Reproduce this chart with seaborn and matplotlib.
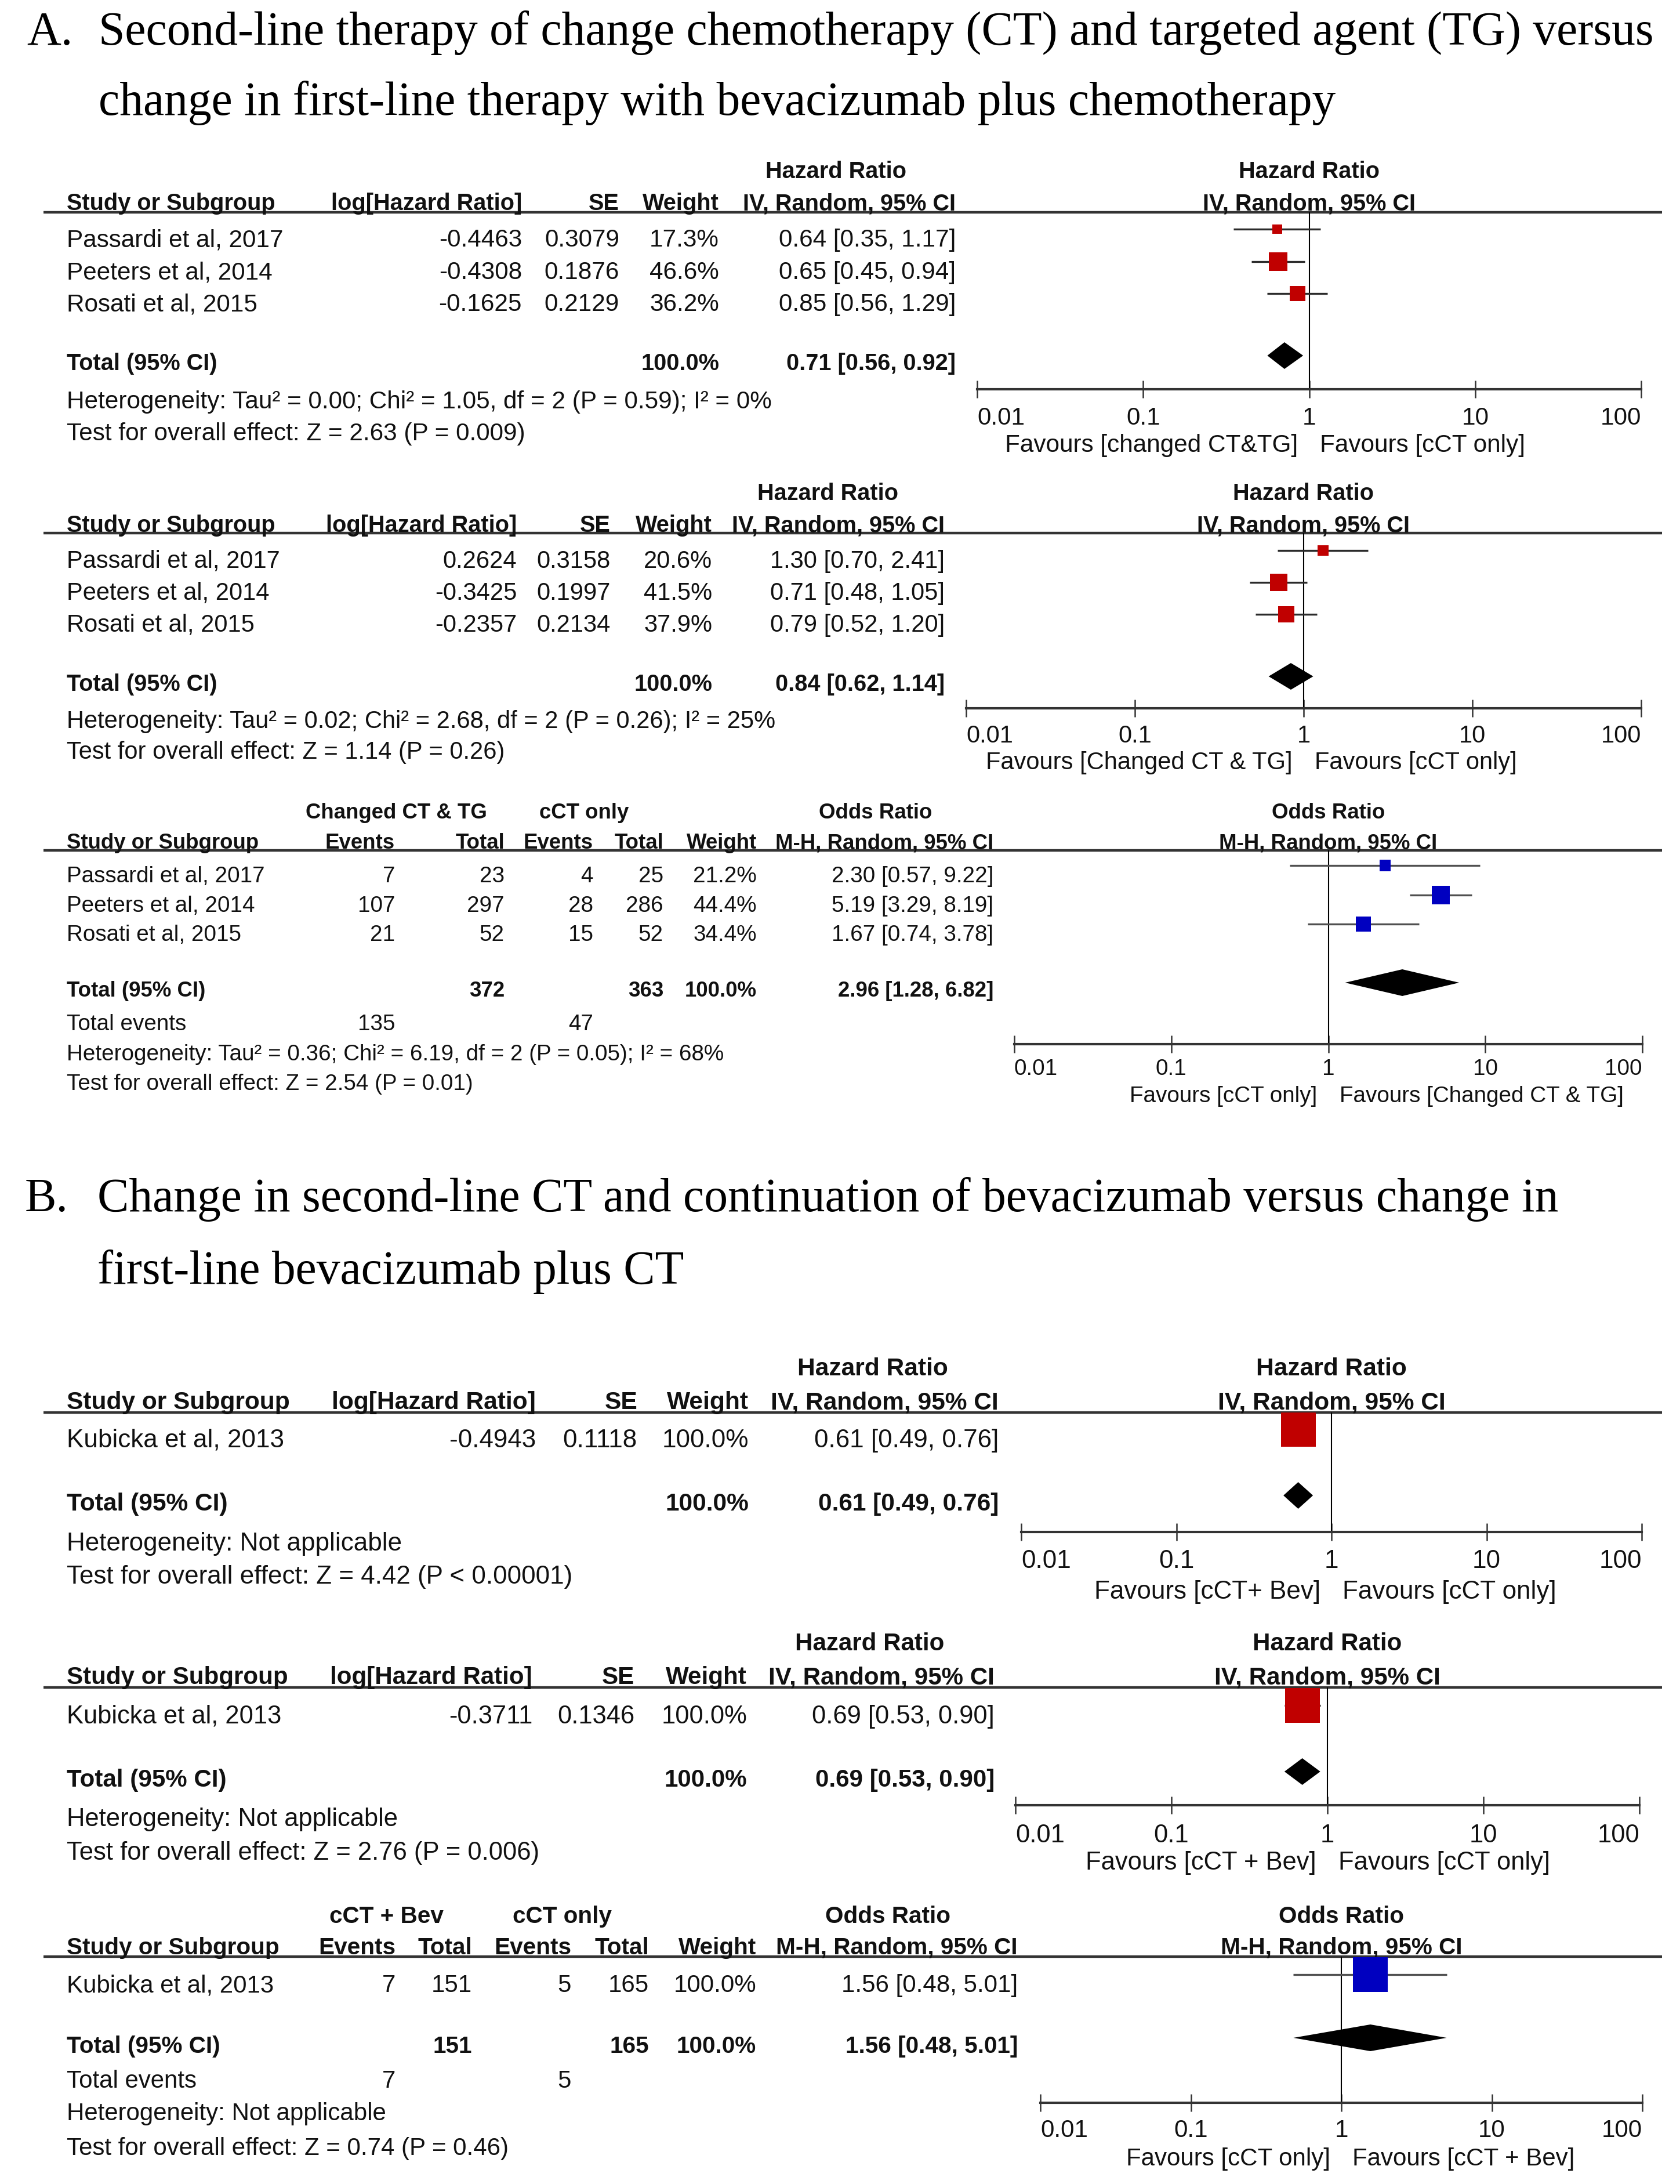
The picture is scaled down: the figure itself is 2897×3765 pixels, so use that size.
import numpy as np
import pandas as pd
import matplotlib
matplotlib.use("Agg")
import matplotlib.pyplot as plt
from matplotlib.ticker import NullLocator
import seaborn as sns

# ---------------------------------------------------------------- data
title_a = ["Second-line therapy of change chemotherapy (CT) and targeted agent (TG) versus",
           "change in first-line therapy with bevacizumab plus chemotherapy"]
title_b = ["Change in second-line CT and continuation of bevacizumab versus change in",
           "first-line bevacizumab plus CT"]

studies_a = ["Passardi et al, 2017", "Peeters et al, 2014", "Rosati et al, 2015"]
studies_b = ["Kubicka et al, 2013"]

tick_values = [0.01, 0.1, 1, 10, 100]
tick_labels = ["0.01", "0.1", "1", "10", "100"]

# A1
a1_loghr = [-0.4463, -0.4308, -0.1625]
a1_se = [0.3079, 0.1876, 0.2129]
a1_weight = [17.3, 46.6, 36.2]
a1_hr = [0.64, 0.65, 0.85]
a1_lo = [0.35, 0.45, 0.56]
a1_hi = [1.17, 0.94, 1.29]
a1_total = [0.71, 0.56, 0.92]
a1_het = "Heterogeneity: Tau² = 0.00; Chi² = 1.05, df = 2 (P = 0.59); I² = 0%"
a1_test = "Test for overall effect: Z = 2.63 (P = 0.009)"
a1_favours = ["Favours [changed CT&TG]", "Favours [cCT only]"]

# A2
a2_loghr = [0.2624, -0.3425, -0.2357]
a2_se = [0.3158, 0.1997, 0.2134]
a2_weight = [20.6, 41.5, 37.9]
a2_hr = [1.30, 0.71, 0.79]
a2_lo = [0.70, 0.48, 0.52]
a2_hi = [2.41, 1.05, 1.20]
a2_total = [0.84, 0.62, 1.14]
a2_het = "Heterogeneity: Tau² = 0.02; Chi² = 2.68, df = 2 (P = 0.26); I² = 25%"
a2_test = "Test for overall effect: Z = 1.14 (P = 0.26)"
a2_favours = ["Favours [Changed CT & TG]", "Favours [cCT only]"]

# A3
a3_groups = ["Changed CT & TG", "cCT only"]
a3_ev1 = [7, 107, 21]
a3_n1 = [23, 297, 52]
a3_ev2 = [4, 28, 15]
a3_n2 = [25, 286, 52]
a3_weight = [21.2, 44.4, 34.4]
a3_or = [2.30, 5.19, 1.67]
a3_lo = [0.57, 3.29, 0.74]
a3_hi = [9.22, 8.19, 3.78]
a3_total = [2.96, 1.28, 6.82]
a3_het = "Heterogeneity: Tau² = 0.36; Chi² = 6.19, df = 2 (P = 0.05); I² = 68%"
a3_test = "Test for overall effect: Z = 2.54 (P = 0.01)"
a3_favours = ["Favours [cCT only]", "Favours [Changed CT & TG]"]

# B1
b1_loghr = [-0.4943]
b1_se = [0.1118]
b1_weight = [100.0]
b1_hr = [0.61]
b1_lo = [0.49]
b1_hi = [0.76]
b1_total = [0.61, 0.49, 0.76]
b1_het = "Heterogeneity: Not applicable"
b1_test = "Test for overall effect: Z = 4.42 (P < 0.00001)"
b1_favours = ["Favours [cCT+ Bev]", "Favours [cCT only]"]

# B2
b2_loghr = [-0.3711]
b2_se = [0.1346]
b2_weight = [100.0]
b2_hr = [0.69]
b2_lo = [0.53]
b2_hi = [0.90]
b2_total = [0.69, 0.53, 0.90]
b2_het = "Heterogeneity: Not applicable"
b2_test = "Test for overall effect: Z = 2.76 (P = 0.006)"
b2_favours = ["Favours [cCT + Bev]", "Favours [cCT only]"]

# B3
b3_groups = ["cCT + Bev", "cCT only"]
b3_ev1 = [7]
b3_n1 = [151]
b3_ev2 = [5]
b3_n2 = [165]
b3_weight = [100.0]
b3_or = [1.56]
b3_lo = [0.48]
b3_hi = [5.01]
b3_total = [1.56, 0.48, 5.01]
b3_het = "Heterogeneity: Not applicable"
b3_test = "Test for overall effect: Z = 0.74 (P = 0.46)"
b3_favours = ["Favours [cCT only]", "Favours [cCT + Bev]"]

# ---------------------------------------------------------------- layout (pixels)
L_A1 = dict(h1=293, h2=348, line=367, rows=[410, 466, 521], total=624, het=689, test=744,
            cols=[900, 1068, 1240, 1648], head_x=1442, sr=1.0, sb=1.0,
            x0=1685, x1=2830, axis=672, tick=716, fav=764)
L_A2 = dict(h1=848, h2=903, line=920, rows=[964, 1019, 1074], total=1177, het=1240, test=1293,
            cols=[891, 1053, 1228, 1629], head_x=1428, sr=0.985, sb=1.0,
            x0=1666, x1=2830, axis=1222, tick=1264, fav=1311)
L_A3 = dict(h1=1398, h2=1450, line=1467, rows=[1507, 1558, 1608], total=1705, tev=1762,
            het=1814, test=1865, cols=[681, 870, 1023, 1144, 1305, 1713], g1=683, g2=1007,
            head_x=1510, sr=0.915, sb=0.92,
            x0=1749, x1=2832, axis=1801, tick=1839, fav=1886)
L_B1 = dict(h1=2356, h2=2414, line=2436, rows=[2479], total=2589, het=2657, test=2714,
            cols=[924, 1099, 1291, 1722], head_x=1505, sr=1.04, sb=1.07,
            x0=1761, x1=2831, axis=2642, tick=2687, fav=2740)
L_B2 = dict(h1=2830, h2=2888, line=2910, rows=[2955], total=3065, het=3132, test=3190,
            cols=[918, 1094, 1288, 1715], head_x=1500, sr=1.03, sb=1.06,
            x0=1751, x1=2827, axis=3113, tick=3160, fav=3207)
L_B3 = dict(h1=3300, h2=3354, line=3374, rows=[3419], total=3524, tev=3584, het=3640,
            test=3700, cols=[682, 814, 985, 1119, 1304, 1755], g1=666, g2=969,
            head_x=1531, sr=0.995, sb=1.02,
            x0=1794, x1=2832, axis=3626, tick=3668, fav=3718)

LEFT = 115
LINE_X = (75, 2866)
RED = "#C00000"
BLUE = "#0000C0"
TXT = "#111111"
LINE_C = "#333333"

# ---------------------------------------------------------------- figure
W, H, DPI = 2897, 3766, 100
sns.set_theme(style="white")
SANS = ["Liberation Sans", "DejaVu Sans"]
SERIF = ["Liberation Serif", "DejaVu Serif"]
plt.rcParams["font.family"] = SANS

fig = plt.figure(figsize=(W / DPI, H / DPI), dpi=DPI)
fig.patch.set_facecolor("white")
bg = fig.add_axes([0, 0, 1, 1])
bg.set_xlim(0, W)
bg.set_ylim(H, 0)
bg.axis("off")
renderer = fig.canvas.get_renderer()


def text_width(s, fs, weight="normal", family=SANS):
    t = fig.text(0, 0, s, fontsize=fs, fontweight=weight, family=family)
    w = t.get_window_extent(renderer=renderer).width
    t.remove()
    return w


FS = 30 * 373 / text_width("Passardi et al, 2017", 30)
FSB = 30 * 360 / text_width("Study or Subgroup", 30, "bold")
FST = 50 * 2685 / text_width(title_a[0], 50, family=SERIF)


def T(x, y, s, ha="left", bold=False, fs=None, family=SANS, cap=0.716, color=TXT, sc=1.0):
    fs = (fs or (FSB if bold else FS)) * sc
    em = fs * DPI / 72
    bg.text(x, y + cap * em / 2, s, ha=ha, va="baseline", fontsize=fs,
            fontweight="bold" if bold else "normal", family=family, color=color)


def ci_str(e, l, h):
    return f"{e:.2f} [{l:.2f}, {h:.2f}]"


def forest(L, est, lo, hi, w, color, tot, favours, head1, head2, ci_color):
    x0, x1, top, ax_y = L["x0"], L["x1"], L["line"], L["axis"]
    sr, sb = L["sr"], L["sb"]
    ax = fig.add_axes([x0 / W, 1 - ax_y / H, (x1 - x0) / W, (ax_y - top) / H])
    ax.patch.set_alpha(0)
    ax.set_xscale("log")
    ys = np.array(L["rows"], dtype=float) - 14
    ax.hlines(ys, lo, hi, color=ci_color, lw=2.4, zorder=2)
    df = pd.DataFrame({"est": est, "y": ys, "w": w})
    side_pt = (8 + 0.52 * df["w"].to_numpy()) * 72 / DPI
    sns.scatterplot(data=df, x="est", y="y", marker="s", s=side_pt ** 2, color=color,
                    linewidth=0, legend=False, ax=ax, zorder=3)
    e, l, h = tot
    dy = L["total"] - 10
    ax.fill([l, e, h, e], [dy, dy - 23, dy, dy + 23], color="black", lw=0, zorder=3)
    ax.axvline(1, color="black", lw=1.5, zorder=1)
    ax.set_xlim(0.01, 100)
    ax.set_ylim(ax_y, top)
    for sp in ["top", "left", "right"]:
        ax.spines[sp].set_visible(False)
    ax.spines["bottom"].set_linewidth(3)
    ax.spines["bottom"].set_color(LINE_C)
    ax.set_xticks(tick_values)
    ax.set_xticklabels(tick_labels)
    ax.xaxis.set_minor_locator(NullLocator())
    ax.set_yticks([])
    ax.set_xlabel("")
    ax.set_ylabel("")
    ax.grid(False)
    em = FS * sr * DPI / 72
    pad_px = (L["tick"] - ax_y) - 15 - 0.358 * em
    ax.tick_params(axis="x", bottom=True, direction="inout", length=21.6, width=1.8,
                   color=LINE_C, labelsize=FS * sr, labelcolor=TXT, pad=pad_px * 72 / DPI)
    labs = ax.get_xticklabels()
    labs[0].set_ha("left")
    labs[-1].set_ha("right")
    xm = (x0 + x1) / 2
    T(xm - 19, L["fav"], favours[0], ha="right", sc=sr)
    T(xm + 19, L["fav"], favours[1], ha="left", sc=sr)
    T(xm, L["h1"], head1, ha="center", bold=True, sc=sb)
    T(xm, L["h2"], head2, ha="center", bold=True, sc=sb)
    bg.plot(LINE_X, [top, top], color=LINE_C, lw=3.2, solid_capstyle="butt")


def hr_panel(L, studies, loghr, se, w, est, lo, hi, tot, het, test, favours, color):
    c = L["cols"]
    sr, sb = L["sr"], L["sb"]
    T(L["head_x"], L["h1"], "Hazard Ratio", ha="center", bold=True, sc=sb)
    T(LEFT, L["h2"], "Study or Subgroup", bold=True, sc=sb)
    for x, s in zip(c, ["log[Hazard Ratio]", "SE", "Weight", "IV, Random, 95% CI"]):
        T(x, L["h2"], s, ha="right", bold=True, sc=sb)
    for i, y in enumerate(L["rows"]):
        T(LEFT, y, studies[i], sc=sr)
        T(c[0], y, f"{loghr[i]:.4f}", ha="right", sc=sr)
        T(c[1], y, f"{se[i]:.4f}", ha="right", sc=sr)
        T(c[2], y, f"{w[i]:.1f}%", ha="right", sc=sr)
        T(c[3], y, ci_str(est[i], lo[i], hi[i]), ha="right", sc=sr)
    T(LEFT, L["total"], "Total (95% CI)", bold=True, sc=sb)
    T(c[2], L["total"], "100.0%", ha="right", bold=True, sc=sb)
    T(c[3], L["total"], ci_str(*tot), ha="right", bold=True, sc=sb)
    T(LEFT, L["het"], het, sc=sr)
    T(LEFT, L["test"], test, sc=sr)
    forest(L, est, lo, hi, w, color, tot, favours, "Hazard Ratio", "IV, Random, 95% CI",
           "#2b2b2b")


def or_panel(L, studies, groups, ev1, n1, ev2, n2, w, est, lo, hi, tot, het, test,
             favours, color):
    c = L["cols"]
    sr, sb = L["sr"], L["sb"]
    T(L["g1"], L["h1"], groups[0], ha="center", bold=True, sc=sb)
    T(L["g2"], L["h1"], groups[1], ha="center", bold=True, sc=sb)
    T(L["head_x"], L["h1"], "Odds Ratio", ha="center", bold=True, sc=sb)
    T(LEFT, L["h2"], "Study or Subgroup", bold=True, sc=sb)
    for x, s in zip(c, ["Events", "Total", "Events", "Total", "Weight", "M-H, Random, 95% CI"]):
        T(x, L["h2"], s, ha="right", bold=True, sc=sb)
    for i, y in enumerate(L["rows"]):
        T(LEFT, y, studies[i], sc=sr)
        T(c[0], y, str(ev1[i]), ha="right", sc=sr)
        T(c[1], y, str(n1[i]), ha="right", sc=sr)
        T(c[2], y, str(ev2[i]), ha="right", sc=sr)
        T(c[3], y, str(n2[i]), ha="right", sc=sr)
        T(c[4], y, f"{w[i]:.1f}%", ha="right", sc=sr)
        T(c[5], y, ci_str(est[i], lo[i], hi[i]), ha="right", sc=sr)
    T(LEFT, L["total"], "Total (95% CI)", bold=True, sc=sb)
    T(c[1], L["total"], str(sum(n1)), ha="right", bold=True, sc=sb)
    T(c[3], L["total"], str(sum(n2)), ha="right", bold=True, sc=sb)
    T(c[4], L["total"], "100.0%", ha="right", bold=True, sc=sb)
    T(c[5], L["total"], ci_str(*tot), ha="right", bold=True, sc=sb)
    T(LEFT, L["tev"], "Total events", sc=sr)
    T(c[0], L["tev"], str(sum(ev1)), ha="right", sc=sr)
    T(c[2], L["tev"], str(sum(ev2)), ha="right", sc=sr)
    T(LEFT, L["het"], het, sc=sr)
    T(LEFT, L["test"], test, sc=sr)
    forest(L, est, lo, hi, w, color, tot, favours, "Odds Ratio", "M-H, Random, 95% CI",
           "#505050")


# titles
T(46, 50, "A.", fs=FST, family=SERIF, cap=0.662, color="black")
T(170, 50, title_a[0], fs=FST, family=SERIF, cap=0.662, color="black")
T(170, 171, title_a[1], fs=FST, family=SERIF, cap=0.662, color="black")
T(43, 2061, "B.", fs=FST, family=SERIF, cap=0.662, color="black")
T(168, 2061, title_b[0], fs=FST, family=SERIF, cap=0.662, color="black")
T(168, 2186, title_b[1], fs=FST, family=SERIF, cap=0.662, color="black")

hr_panel(L_A1, studies_a, a1_loghr, a1_se, a1_weight, a1_hr, a1_lo, a1_hi, a1_total,
         a1_het, a1_test, a1_favours, RED)
hr_panel(L_A2, studies_a, a2_loghr, a2_se, a2_weight, a2_hr, a2_lo, a2_hi, a2_total,
         a2_het, a2_test, a2_favours, RED)
or_panel(L_A3, studies_a, a3_groups, a3_ev1, a3_n1, a3_ev2, a3_n2, a3_weight, a3_or,
         a3_lo, a3_hi, a3_total, a3_het, a3_test, a3_favours, BLUE)
hr_panel(L_B1, studies_b, b1_loghr, b1_se, b1_weight, b1_hr, b1_lo, b1_hi, b1_total,
         b1_het, b1_test, b1_favours, RED)
hr_panel(L_B2, studies_b, b2_loghr, b2_se, b2_weight, b2_hr, b2_lo, b2_hi, b2_total,
         b2_het, b2_test, b2_favours, RED)
or_panel(L_B3, studies_b, b3_groups, b3_ev1, b3_n1, b3_ev2, b3_n2, b3_weight, b3_or,
         b3_lo, b3_hi, b3_total, b3_het, b3_test, b3_favours, BLUE)

fig.savefig("out.png", dpi=DPI, facecolor="white")
